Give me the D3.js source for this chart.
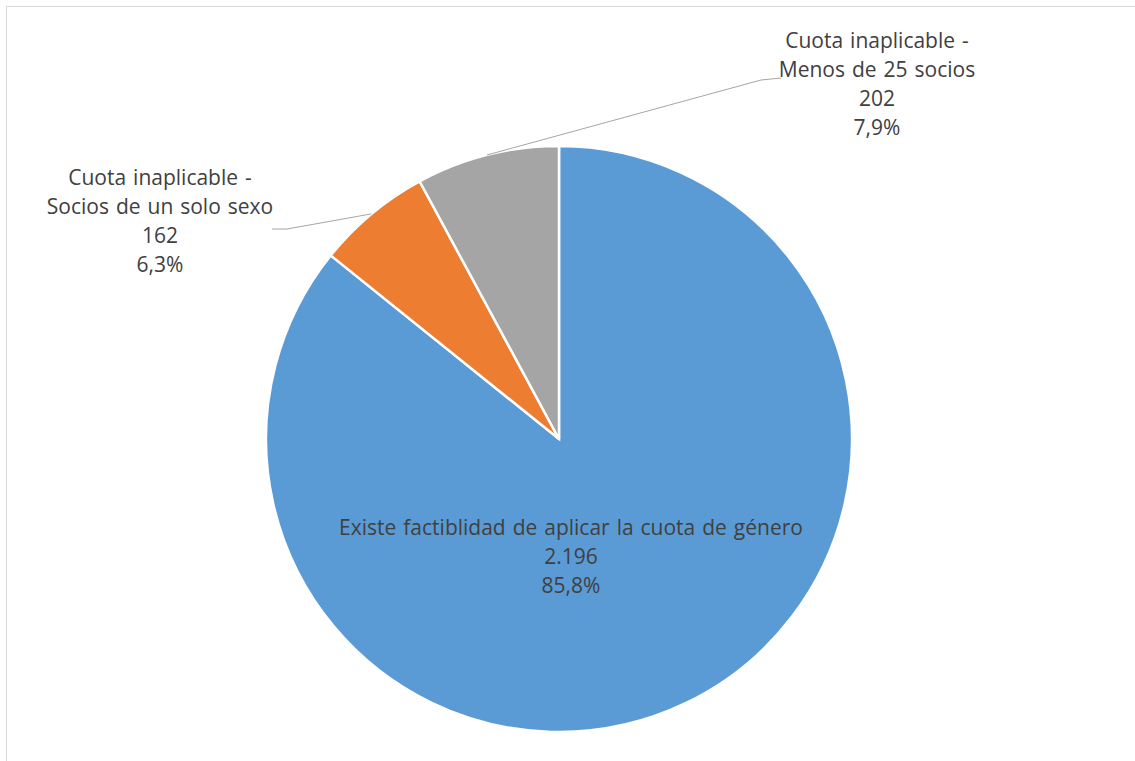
<!DOCTYPE html>
<html>
<head>
<meta charset="utf-8">
<script src="https://cdn.jsdelivr.net/npm/d3@7"></script>
<style>
  body { margin: 0; background: #fff; }
  text { font-family: "Open Sans", Lato, sans-serif; fill: #404040; word-spacing: 1.5px; }
</style>
</head>
<body>
<svg id="chart" width="1135" height="761"></svg>
<script>
// data
let categories = [
  'Existe factiblidad de aplicar la cuota de género',
  'Cuota inaplicable - Socios de un solo sexo',
  'Cuota inaplicable - Menos de 25 socios'
]
let labelLines = [
  ['Existe factiblidad de aplicar la cuota de género'],
  ['Cuota inaplicable -', 'Socios de un solo sexo'],
  ['Cuota inaplicable -', 'Menos de 25 socios']
]
let values = [2196, 162, 202]
let valueLabels = ['2.196', '162', '202']
let percentLabels = ['85,8%', '6,3%', '7,9%']
let colors = ['#5b9bd5', '#ed7d31', '#a5a5a5']

let svg = d3.select('#chart')

// chart frame
svg
  .append('rect')
  .attr('x', 6.5)
  .attr('y', 6.5)
  .attr('width', 1140)
  .attr('height', 770)
  .attr('fill', 'none')
  .attr('stroke', '#d9d9d9')

let cx = 559
let cy = 439
let radius = 293

let g = svg.append('g').attr('transform', `translate(${cx},${cy})`)

let pie = d3
  .pie()
  .sort(null)
  .value(d => d.value)

let arc = d3.arc().innerRadius(0).outerRadius(radius)
let edgeArc = d3.arc().innerRadius(radius).outerRadius(radius)

let data = categories.map((c, i) => ({
  name: c,
  value: values[i],
  lines: labelLines[i].concat([valueLabels[i], percentLabels[i]]),
  color: colors[i]
}))

let arcs = pie(data)

g.selectAll('.slice')
  .data(arcs)
  .enter()
  .append('path')
  .attr('class', 'slice')
  .attr('d', arc)
  .attr('fill', d => d.data.color)
  .attr('stroke', '#fff')
  .attr('stroke-width', 2.5)
  .attr('stroke-linejoin', 'miter')

// label anchors (relative to pie centre)
let labelPos = [
  { x: 12, y: 89, line: null },
  { x: -399, y: -261, line: { bend: [-272, -210], end: [-287, -210] } },
  { x: 318, y: -398, line: { bend: [202, -359], end: [222, -361] } }
]
let lineHeight = 29

arcs.forEach((d, i) => {
  let pos = labelPos[i]
  if (pos.line) {
    let start = edgeArc.centroid(d)
    let pts = [start, pos.line.bend, pos.line.end]
    g.append('path')
      .attr('d', d3.line()(pts))
      .attr('fill', 'none')
      .attr('stroke', '#a6a6a6')
      .attr('stroke-width', 1)
  }
  let t = g
    .append('text')
    .attr('text-anchor', 'middle')
    .attr('font-size', 21)
  d.data.lines.forEach((l, j) => {
    t.append('tspan')
      .attr('x', pos.x)
      .attr('y', pos.y + j * lineHeight)
      .attr('dy', '0.35em')
      .text(l)
  })
})
</script>
</body>
</html>
